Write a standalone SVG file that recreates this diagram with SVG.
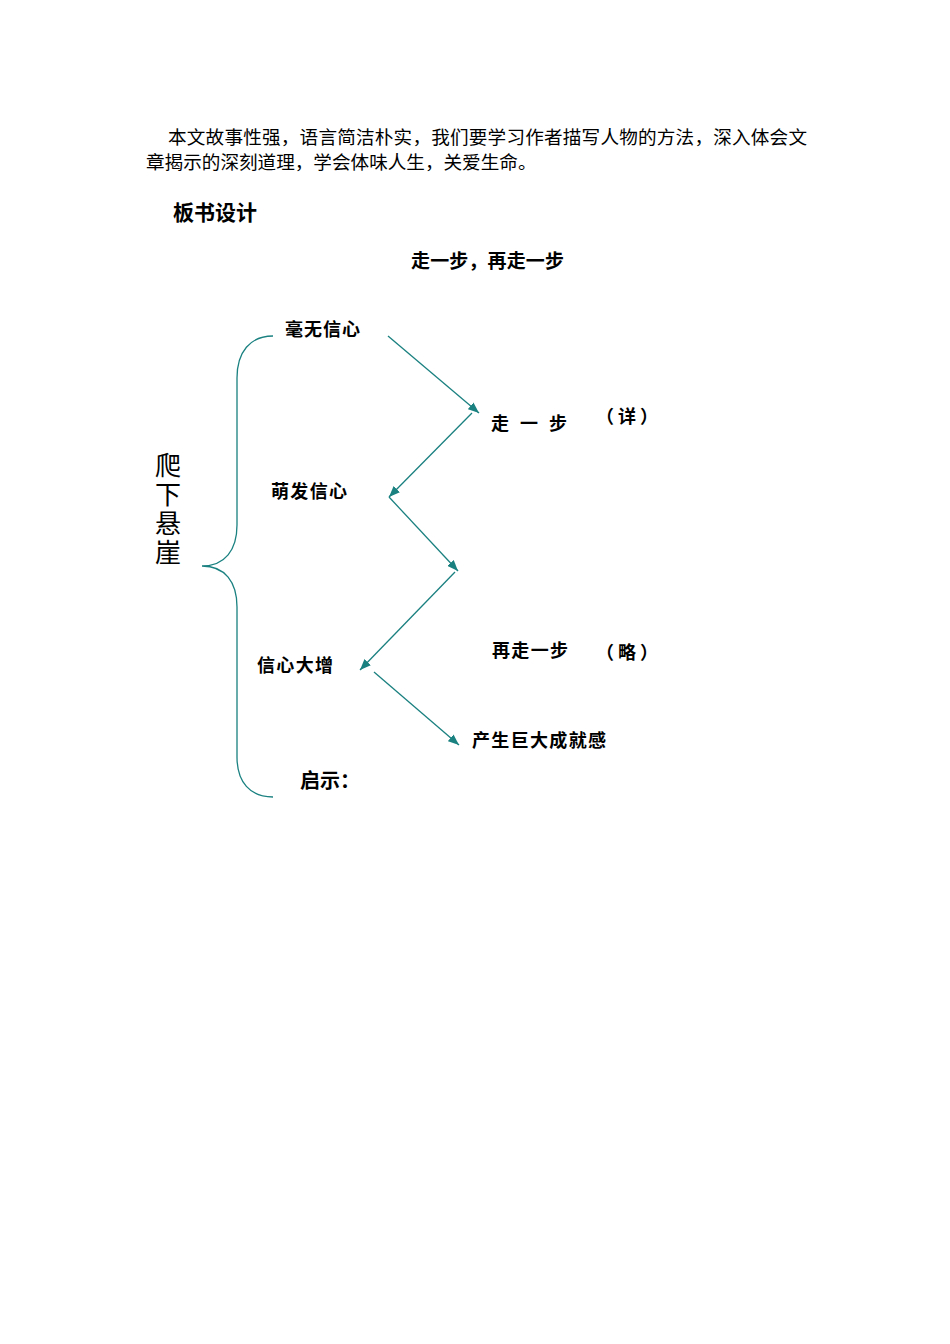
<svg xmlns="http://www.w3.org/2000/svg" width="950" height="1344" viewBox="0 0 950 1344">
<style>
.t{font-family:"Noto Sans CJK SC","Noto Sans",sans-serif;fill:#000}
.p{font-size:18.6px}
.b{font-weight:bold}
.n{font-size:18px;font-weight:bold}
.c{fill:none;stroke:#1a8080;stroke-width:1.3}
</style>
<defs>
<marker id="ah" viewBox="0 0 10 8" refX="10" refY="4" markerWidth="11" markerHeight="9" markerUnits="userSpaceOnUse" orient="auto">
<path d="M0,0 L10,4 L0,8 Z" fill="#1a8080"/>
</marker>
</defs>
<rect width="950" height="1344" fill="#fff"/>
<g id="paragraph">
<text class="t p" x="168" y="144" textLength="639" lengthAdjust="spacing">本文故事性强，语言简洁朴实，我们要学习作者描写人物的方法，深入体会文</text>
<text class="t p" x="146" y="169">章揭示的深刻道理，学会体味人生，关爱生命。</text>
</g>
<g id="heading"><text class="t b" x="173" y="220" font-size="21">板书设计</text></g>
<g id="title"><text class="t b" x="411" y="268" font-size="19" textLength="153" lengthAdjust="spacing">走一步，再走一步</text></g>
<g id="connectors">
<path class="c" d="M273,336 C250,336 237,352 237,378 L237,525 C237,550 225,566 202,566 C225,566 237,582 237,607 L237,757 C237,782 250,797 273,797"/>
<line class="c" x1="388" y1="336" x2="479" y2="413" marker-end="url(#ah)"/>
<line class="c" x1="472" y1="413" x2="389" y2="497" marker-end="url(#ah)"/>
<line class="c" x1="389" y1="497" x2="458" y2="571" marker-end="url(#ah)"/>
<line class="c" x1="455" y1="572" x2="360" y2="670" marker-end="url(#ah)"/>
<line class="c" x1="374" y1="672" x2="459" y2="745" marker-end="url(#ah)"/>
</g>
<g id="n-pa"><text class="t" font-size="26" x="168" y="452" writing-mode="vertical-rl" letter-spacing="3">爬下悬崖</text></g>
<g id="n-haowu"><text class="t n" x="285" y="336" textLength="75" lengthAdjust="spacing">毫无信心</text></g>
<g id="n-zouyibu"><text class="t n" x="491" y="430" textLength="76" lengthAdjust="spacing">走 一 步</text></g>
<g id="n-xiang"><text class="t n" x="596" y="423" textLength="62" lengthAdjust="spacing">（详）</text></g>
<g id="n-mengfa"><text class="t n" x="271" y="498" textLength="76" lengthAdjust="spacing">萌发信心</text></g>
<g id="n-xinxin"><text class="t n" x="257" y="672" textLength="76" lengthAdjust="spacing">信心大增</text></g>
<g id="n-zaizou"><text class="t n" x="492" y="657" textLength="76" lengthAdjust="spacing">再走一步</text></g>
<g id="n-lue"><text class="t n" x="596" y="659" textLength="62" lengthAdjust="spacing">（略）</text></g>
<g id="n-chansheng"><text class="t n" x="472" y="747" font-size="19" textLength="134" lengthAdjust="spacing">产生巨大成就感</text></g>
<g id="n-qishi"><text class="t b" x="300" y="788" font-size="20">启示：</text></g>
</svg>
